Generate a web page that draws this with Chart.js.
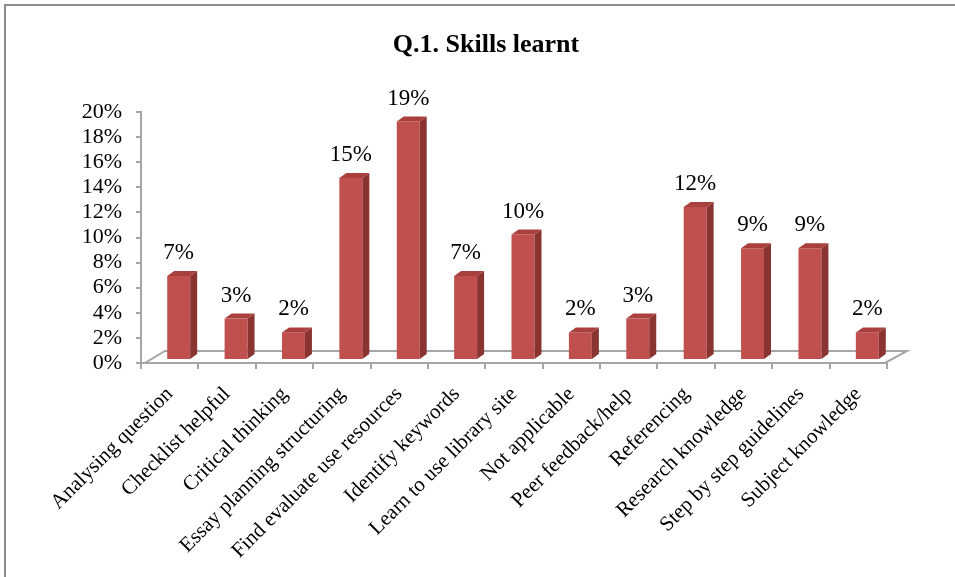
<!DOCTYPE html>
<html>
<head>
<meta charset="utf-8">
<script src="https://cdn.jsdelivr.net/npm/chart.js@4.4.0/dist/chart.umd.min.js"></script>
<style>
  body { margin: 0; background: #fff; }
  #wrap { width: 955px; height: 577px; }
</style>
</head>
<body>
<div id="wrap"><canvas id="myChart" width="955" height="577"></canvas></div>
<script>
const categories = [
  "Analysing question", "Checklist helpful", "Critical thinking",
  "Essay planning structuring", "Find evaluate use resources", "Identify keywords",
  "Learn to use library site", "Not applicable", "Peer feedback/help",
  "Referencing", "Research knowledge", "Step by step guidelines", "Subject knowledge"
];
const skillValues = [6.7, 3.3, 2.2, 14.5, 19.0, 6.7, 10.0, 2.2, 3.3, 12.2, 8.9, 8.9, 2.2];
const yTicks = [0, 2, 4, 6, 8, 10, 12, 14, 16, 18, 20];

const serif = "'Liberation Serif', 'Times New Roman', serif";

// 3d look: floor, side + top faces, value labels, frame and title
const fake3d = {
  id: "fake3d",
  beforeDatasetsDraw(chart) {
    const { ctx, chartArea: a } = chart;
    ctx.save();
    ctx.beginPath();
    ctx.moveTo(a.left + 4, a.bottom);
    ctx.lineTo(a.right - 2, a.bottom);
    ctx.lineTo(a.right + 20, a.bottom - 12);
    ctx.lineTo(a.left + 24, a.bottom - 12);
    ctx.closePath();
    ctx.fillStyle = "#ffffff";
    ctx.fill();
    ctx.strokeStyle = "#a6a6a6";
    ctx.lineWidth = 2;
    ctx.stroke();
    ctx.restore();
    // bars stand half way back on the floor
    ctx.save();
    ctx.translate(9, -3);
  },
  afterDatasetsDraw(chart) {
    const { ctx } = chart;
    const meta = chart.getDatasetMeta(0);
    const dx = 7, dy = 5;
    meta.data.forEach((bar, i) => {
      const w = bar.width / 2;
      const l = bar.x - w, r = bar.x + w, t = bar.y, b = bar.base;
      ctx.beginPath();
      ctx.moveTo(r, t);
      ctx.lineTo(r + dx, t - dy);
      ctx.lineTo(r + dx, b - dy);
      ctx.lineTo(r, b);
      ctx.closePath();
      ctx.fillStyle = "#8a3432";
      ctx.fill();
      ctx.beginPath();
      ctx.moveTo(l, t);
      ctx.lineTo(l + dx, t - dy);
      ctx.lineTo(r + dx, t - dy);
      ctx.lineTo(r, t);
      ctx.closePath();
      ctx.fillStyle = "#a9403d";
      ctx.fill();
      ctx.fillStyle = "#000";
      ctx.font = "23px " + serif;
      ctx.textAlign = "center";
      ctx.textBaseline = "alphabetic";
      ctx.fillText(Math.round(skillValues[i]) + "%", bar.x, t - 17);
    });
    ctx.restore();
  },
  afterDraw(chart) {
    const { ctx } = chart;
    ctx.save();
    ctx.strokeStyle = "#8c8c8c";
    ctx.lineWidth = 2;
    ctx.beginPath();
    ctx.moveTo(5, 577);
    ctx.lineTo(5, 5);
    ctx.lineTo(955, 5);
    ctx.stroke();
    ctx.fillStyle = "#000";
    ctx.font = "bold 26px " + serif;
    ctx.textAlign = "center";
    ctx.textBaseline = "middle";
    ctx.fillText("Q.1. Skills learnt", 486, 45);
    ctx.restore();
  }
};

new Chart(document.getElementById("myChart").getContext("2d"), {
  type: "bar",
  data: {
    labels: categories,
    datasets: [{
      data: skillValues,
      backgroundColor: "#c0504d",
      borderWidth: 0,
      barPercentage: 0.4,
      categoryPercentage: 1.0
    }]
  },
  options: {
    responsive: false,
    animation: false,
    layout: { padding: { top: 112, right: 68, bottom: 0, left: 0 } },
    plugins: {
      legend: { display: false },
      tooltip: { enabled: false },
      title: { display: false }
    },
    scales: {
      x: {
        grid: { drawOnChartArea: false, offset: true, color: "#a6a6a6", tickLength: 6, lineWidth: 2 },
        border: { color: "#a6a6a6", width: 2 },
        ticks: {
          color: "#000",
          font: { family: serif, size: 21 },
          minRotation: 45,
          maxRotation: 45,
          autoSkip: false,
          padding: 13
        },
        afterFit(scale) { scale.height = 214; }
      },
      y: {
        min: 0,
        max: 20,
        afterBuildTicks(scale) { scale.ticks = yTicks.map(v => ({ value: v })); },
        grid: { drawOnChartArea: false, color: "#a6a6a6", tickLength: 5, lineWidth: 2 },
        border: { color: "#a6a6a6", width: 2 },
        ticks: {
          color: "#000",
          font: { family: serif, size: 22 },
          padding: 14,
          autoSkip: false,
          callback: v => v + "%"
        },
        afterFit(scale) { scale.width = 141; }
      }
    }
  },
  plugins: [fake3d]
});
</script>
</body>
</html>
